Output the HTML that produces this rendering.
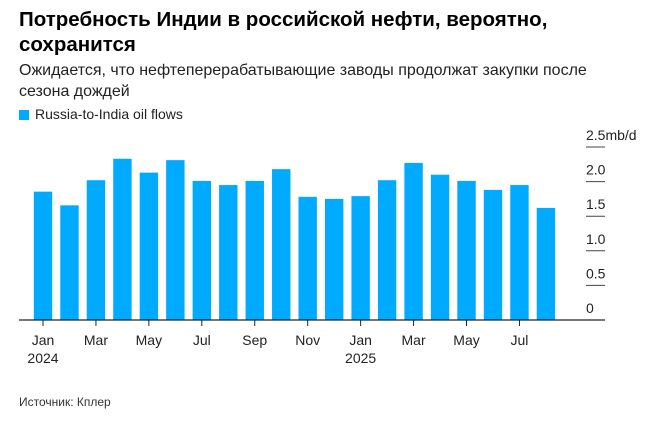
<!DOCTYPE html>
<html><head><meta charset="utf-8">
<style>
body{margin:0;width:663px;height:428px;background:#fff;font-family:"Liberation Sans","Noto Sans CJK SC",sans-serif;overflow:hidden;position:relative;color:#000}
.t{position:absolute;left:19px;top:7px;font-size:20.5px;font-weight:bold;line-height:25px;width:640px}
.s{position:absolute;left:19px;top:60px;font-size:16px;line-height:21px;color:#222;width:615px}
.lg{position:absolute;left:19px;top:106px;font-size:14px;color:#222}
.lg span{display:inline-block;width:10px;height:10px;background:#00aaff;margin-right:6px;vertical-align:-1px}
.src{position:absolute;left:19px;top:395px;font-size:12px;color:#333}
svg{position:absolute;left:0;top:0}
</style></head><body>
<div class="t">Потребность Индии в российской нефти, вероятно, сохранится</div>
<div class="s">Ожидается, что нефтеперерабатывающие заводы продолжат закупки после сезона дождей</div>
<div class="lg"><span></span>Russia-to-India oil flows</div>
<div class="src">Источник: Кплер</div>
<svg id="c" width="663" height="428"></svg>
<script>
const values=[1.855,1.657,2.02,2.33,2.13,2.31,2.01,1.95,2.01,2.18,1.78,1.75,1.79,2.02,2.27,2.10,2.01,1.88,1.95,1.62];
const monthLabels=["Jan","","Mar","","May","","Jul","","Sep","","Nov","","Jan","","Mar","","May","","Jul",""];
const yearLabels=["2024","","","","","","","","","","","","2025","","","","","","",""];
const yTicks=[0,0.5,1.0,1.5,2.0,2.5];
const yTickLabels=["0","0.5","1.0","1.5","2.0","2.5mb/d"];
const svg=document.getElementById('c');
const NS='http://www.w3.org/2000/svg';
const y0=320,pxPer=69.2;
function y(v){return y0-v*pxPer;}
function x(i){return 43+i*26.47;}
function mk(t,a){const e=document.createElementNS(NS,t);for(const k in a)e.setAttribute(k,a[k]);svg.appendChild(e);return e;}
values.forEach((v,i)=>{
  const r=mk('rect',{x:x(i)-9.2,y:y(v),width:18.4,height:y0-y(v),fill:'#00aaff'});
  
  
});
yTicks.forEach((v,i)=>{
  const l=mk('line',{x1:586,x2:605,y1:y(v),y2:y(v),stroke:'#444','stroke-width':1});
  
  
  const t=mk('text',{x:586,y:y(v)-7,'font-size':14,fill:'#222','font-family':'Liberation Sans, sans-serif'});
  t.textContent=yTickLabels[i];
  
  
});
const ax=mk('line',{x1:19,x2:605,y1:y0,y2:y0,stroke:'#222','stroke-width':1.3});


monthLabels.forEach((m,i)=>{
  if(!m)return;
  const tk=mk('line',{x1:x(i),x2:x(i),y1:y0,y2:y0+6,stroke:'#222','stroke-width':1});
  
  
  const t=mk('text',{x:x(i),y:y0+25,'font-size':14,fill:'#222','text-anchor':'middle','font-family':'Liberation Sans, sans-serif'});
  t.textContent=m;
  
  
  if(yearLabels[i]){
    const yt=mk('text',{x:x(i),y:y0+43,'font-size':14,fill:'#222','text-anchor':'middle','font-family':'Liberation Sans, sans-serif'});
    yt.textContent=yearLabels[i];
    
    
  }
});
</script>
</body></html>
